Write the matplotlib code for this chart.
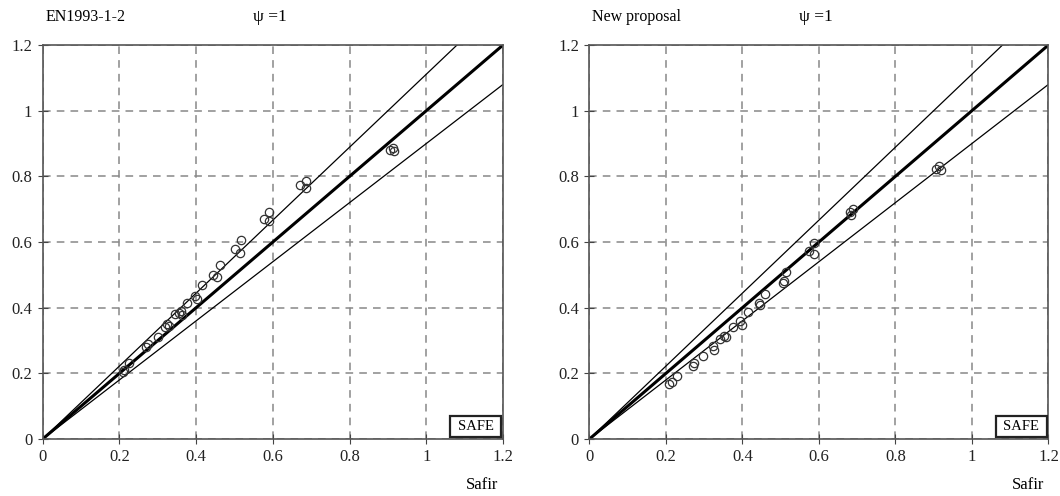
import numpy as np
import matplotlib
matplotlib.use('Agg')
import matplotlib.pyplot as plt
from matplotlib.patches import Rectangle

plt.rcParams['font.family'] = ['Liberation Serif', 'DejaVu Serif']

# data (x = Safir, y = simple model)
en_x = [0.210, 0.213, 0.225, 0.270, 0.275, 0.300, 0.320, 0.325, 0.330, 0.345, 0.355,
        0.360, 0.362, 0.376, 0.397, 0.402, 0.416, 0.445, 0.454, 0.463, 0.502, 0.515,
        0.517, 0.576, 0.589, 0.591, 0.670, 0.685, 0.687, 0.905, 0.912, 0.915]
en_y = [0.205, 0.210, 0.230, 0.280, 0.290, 0.310, 0.340, 0.350, 0.345, 0.380, 0.385,
        0.390, 0.378, 0.413, 0.436, 0.426, 0.468, 0.501, 0.492, 0.530, 0.578, 0.568,
        0.606, 0.670, 0.690, 0.665, 0.775, 0.785, 0.765, 0.880, 0.885, 0.878]

np_x = [0.208, 0.215, 0.228, 0.271, 0.274, 0.296, 0.322, 0.325, 0.341, 0.352, 0.357,
        0.374, 0.393, 0.398, 0.414, 0.444, 0.447, 0.460, 0.507, 0.509, 0.515, 0.575,
        0.587, 0.588, 0.680, 0.685, 0.690, 0.906, 0.914, 0.918]
np_y = [0.167, 0.175, 0.192, 0.222, 0.230, 0.253, 0.283, 0.271, 0.306, 0.314, 0.310,
        0.340, 0.360, 0.347, 0.388, 0.415, 0.408, 0.441, 0.476, 0.482, 0.509, 0.573,
        0.598, 0.563, 0.690, 0.682, 0.700, 0.821, 0.832, 0.819]

panels = [("EN1993-1-2", en_x, en_y), ("New proposal", np_x, np_y)]
ticks = [0, 0.2, 0.4, 0.6, 0.8, 1, 1.2]
tick_labels = ["0", "0.2", "0.4", "0.6", "0.8", "1", "1.2"]
band = [1 / 0.9, 1.0, 0.9]  # upper, equality, lower lines

fig = plt.figure(figsize=(10.6, 4.96), dpi=100)
positions = [[0.0403, 0.1149, 0.4343, 0.7944], [0.5561, 0.1149, 0.4330, 0.7944]]

for pos, (name, xs, ys) in zip(positions, panels):
    ax = fig.add_axes(pos)
    ax.set_xlim(0, 1.2)
    ax.set_ylim(0, 1.2)
    ax.set_xticks(ticks)
    ax.set_yticks(ticks)
    ax.set_xticklabels(tick_labels, fontsize=12)
    ax.set_yticklabels(tick_labels, fontsize=12)
    ax.tick_params(direction='inout', length=7, width=0.8, colors='#444444',
                   labelcolor='#222222', pad=4)
    ax.grid(True, linestyle=(0, (5, 4)), color='#888888', linewidth=1.1)
    ax.set_axisbelow(True)
    for s in ax.spines.values():
        s.set_color('#555555')
        s.set_linewidth(1.2)

    xx = np.array([0, 1.2])
    for k in band:
        lw = 2.2 if k == 1.0 else 0.9
        ax.plot(xx, k * xx, color='black', linewidth=lw, solid_capstyle='butt')

    ax.plot(xs, ys, linestyle='none', marker='o', markersize=6,
            markerfacecolor='none', markeredgecolor='#333333', markeredgewidth=0.9)

    # "SAFE" box sitting in the lower right corner
    box = Rectangle((0.885, 0.004), 0.111, 0.054, transform=ax.transAxes,
                    facecolor='white', edgecolor='#222222', linewidth=1.6, zorder=5)
    ax.add_patch(box)
    ax.text(0.9405, 0.031, "SAFE", transform=ax.transAxes, ha='center', va='center',
            fontsize=10.5, zorder=6)

    ax.text(0.006, 1.07, name, transform=ax.transAxes, ha='left', va='center',
            fontsize=11.5)
    ax.text(0.493, 1.07, "ψ =1", transform=ax.transAxes, ha='center', va='center',
            fontsize=12.5)
    ax.text(0.955, -0.117, "Safir", transform=ax.transAxes, ha='center', va='center',
            fontsize=12)

fig.savefig('out.png', dpi=100)
